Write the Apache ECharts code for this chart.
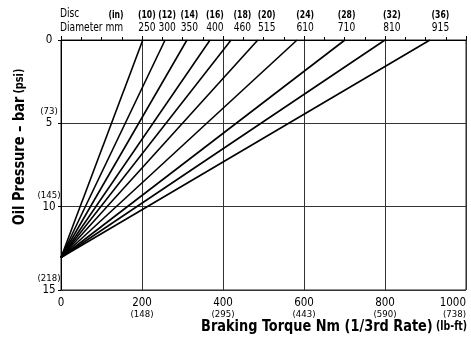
<!DOCTYPE html>
<html>
<head>
<meta charset="utf-8">
<script src="https://cdn.jsdelivr.net/npm/echarts@6/dist/echarts.min.js"></script>
<style>
  html, body { margin: 0; padding: 0; background: #fff; }
  #chart { width: 471px; height: 338px; }
</style>
</head>
<body>
<div id="chart"></div>
<script>
const FONT = "'DejaVu Sans Condensed', 'Liberation Sans Narrow', 'Liberation Sans', sans-serif";
// horizontal squeeze for the condensed-looking headings
const SQUEEZE = 0.78;

// Disc sizes: inches and millimetres
const discInches = ['(10)', '(12)', '(14)', '(16)', '(18)', '(20)', '(24)', '(28)', '(32)', '(36)'];
const discMm = ['250', '300', '350', '400', '460', '515', '610', '710', '810', '915'];
// Braking torque (Nm) where each disc line reaches 0 bar
const torqueAtZeroBar = [202, 257, 311, 368, 420, 486, 583, 701, 800, 911];
// Torque position of each disc heading above the plot
const headingTorque = [212, 262, 317, 380, 448, 508, 603, 705, 817, 937];
// Oil pressure (bar) shared by all lines at zero torque
const startPressure = 13.05;

// Axis ticks with secondary imperial units
const xTicks = [0, 200, 400, 600, 800, 1000];
const xTicksLbft = ['', '(148)', '(295)', '(443)', '(590)', '(738)'];
const yTicks = [0, 5, 10, 15];
const yTicksPsi = ['', '(73)', '(145)', '(218)'];

const chart = echarts.init(document.getElementById('chart'), null, { renderer: 'canvas' });

const series = torqueAtZeroBar.map((t, i) => ({
  type: 'line',
  name: discMm[i],
  data: [[0, startPressure], [t, 0]],
  symbol: 'none',
  silent: true,
  lineStyle: { color: '#000', width: 1.6 },
  z: 3
}));

chart.setOption({
  animation: false,
  backgroundColor: '#fff',
  textStyle: { fontFamily: FONT, color: '#000' },
  grid: {
    left: 61, right: 5, top: 40, bottom: 48,
    show: true, borderColor: '#222', borderWidth: 1, backgroundColor: 'transparent'
  },
  xAxis: {
    type: 'value', min: 0, max: 1000, interval: 200,
    axisLine: { show: true, lineStyle: { color: '#000', width: 1 } },
    axisTick: { show: true, inside: true, length: 4, lineStyle: { color: '#000' } },
    minorTick: { show: true, splitNumber: 4, length: 3, lineStyle: { color: '#000' } },
    splitLine: { show: true, lineStyle: { color: '#333', width: 1 } },
    axisLabel: {
      margin: 7,
      alignMaxLabel: 'right',
      formatter: v => {
        const i = xTicks.indexOf(v);
        const p = i >= 0 ? xTicksLbft[i] : '';
        return p ? `{v|${v}}\n{p|${p}}` : `{v|${v}}`;
      },
      rich: {
        v: { fontFamily: FONT, fontSize: 11.5, lineHeight: 12, color: '#000' },
        p: { fontFamily: FONT, fontSize: 9.5, lineHeight: 11, color: '#000' }
      }
    }
  },
  yAxis: {
    type: 'value', min: 0, max: 15, interval: 5, inverse: true,
    axisLine: { show: true, lineStyle: { color: '#000', width: 1 } },
    axisTick: { show: true, inside: false, length: 3, lineStyle: { color: '#000' } },
    splitLine: { show: true, lineStyle: { color: '#333', width: 1 } },
    axisLabel: {
      margin: 12,
      align: 'center',
      formatter: v => {
        const i = yTicks.indexOf(v);
        const p = i >= 0 ? yTicksPsi[i] : '';
        return p ? `{p|${p}}\n{v|${v}}\n{e| }` : `{v|${v}}`;
      },
      rich: {
        v: { fontFamily: FONT, fontSize: 11.5, lineHeight: 12, color: '#000', align: 'center' },
        p: { fontFamily: FONT, fontSize: 9.5, lineHeight: 11, color: '#000', align: 'center' },
        e: { fontFamily: FONT, fontSize: 9.5, lineHeight: 11, align: 'center' }
      }
    }
  },
  series
});

// Disc headings and axis titles
const graphics = [
  { type: 'text', x: 60, y: 14, scaleX: SQUEEZE, style: { text: 'Disc', fontFamily: FONT, fontSize: 13, fill: '#000', align: 'left', verticalAlign: 'middle' } },
  { type: 'text', x: 116, y: 15, scaleX: SQUEEZE, style: { text: '(in)', fontFamily: FONT, fontSize: 11, fontWeight: 'bold', fill: '#000', align: 'center', verticalAlign: 'middle' } },
  { type: 'text', x: 60, y: 28, scaleX: SQUEEZE, style: { text: 'Diameter mm', fontFamily: FONT, fontSize: 13, fill: '#000', align: 'left', verticalAlign: 'middle' } },
  {
    type: 'text', x: 20, y: 147, rotation: Math.PI / 2, scaleX: 0.9,
    style: {
      text: '{a|Oil Pressure – bar} {b|(psi)}',
      align: 'center', verticalAlign: 'middle', fill: '#000',
      rich: {
        a: { fontFamily: FONT, fontSize: 16, fontWeight: 'bold', fill: '#000' },
        b: { fontFamily: FONT, fontSize: 12, fontWeight: 'bold', fill: '#000' }
      }
    }
  },
  {
    type: 'text', x: 467, y: 327, scaleX: 0.87,
    style: {
      text: '{a|Braking Torque Nm (1/3rd Rate)}{b| (lb-ft)}',
      align: 'right', verticalAlign: 'middle', fill: '#000',
      rich: {
        a: { fontFamily: FONT, fontSize: 16.5, fontWeight: 'bold', fill: '#000' },
        b: { fontFamily: FONT, fontSize: 12, fontWeight: 'bold', fill: '#000' }
      }
    }
  }
];

headingTorque.forEach((t, i) => {
  const px = chart.convertToPixel({ xAxisIndex: 0 }, t);
  graphics.push({ type: 'text', x: px, y: 15, scaleX: SQUEEZE, style: { text: discInches[i], fontFamily: FONT, fontSize: 11, fontWeight: 'bold', fill: '#000', align: 'center', verticalAlign: 'middle' } });
  graphics.push({ type: 'text', x: px, y: 28, scaleX: SQUEEZE, style: { text: discMm[i], fontFamily: FONT, fontSize: 13, fill: '#000', align: 'center', verticalAlign: 'middle' } });
});

chart.setOption({ graphic: graphics });
</script>
</body>
</html>
